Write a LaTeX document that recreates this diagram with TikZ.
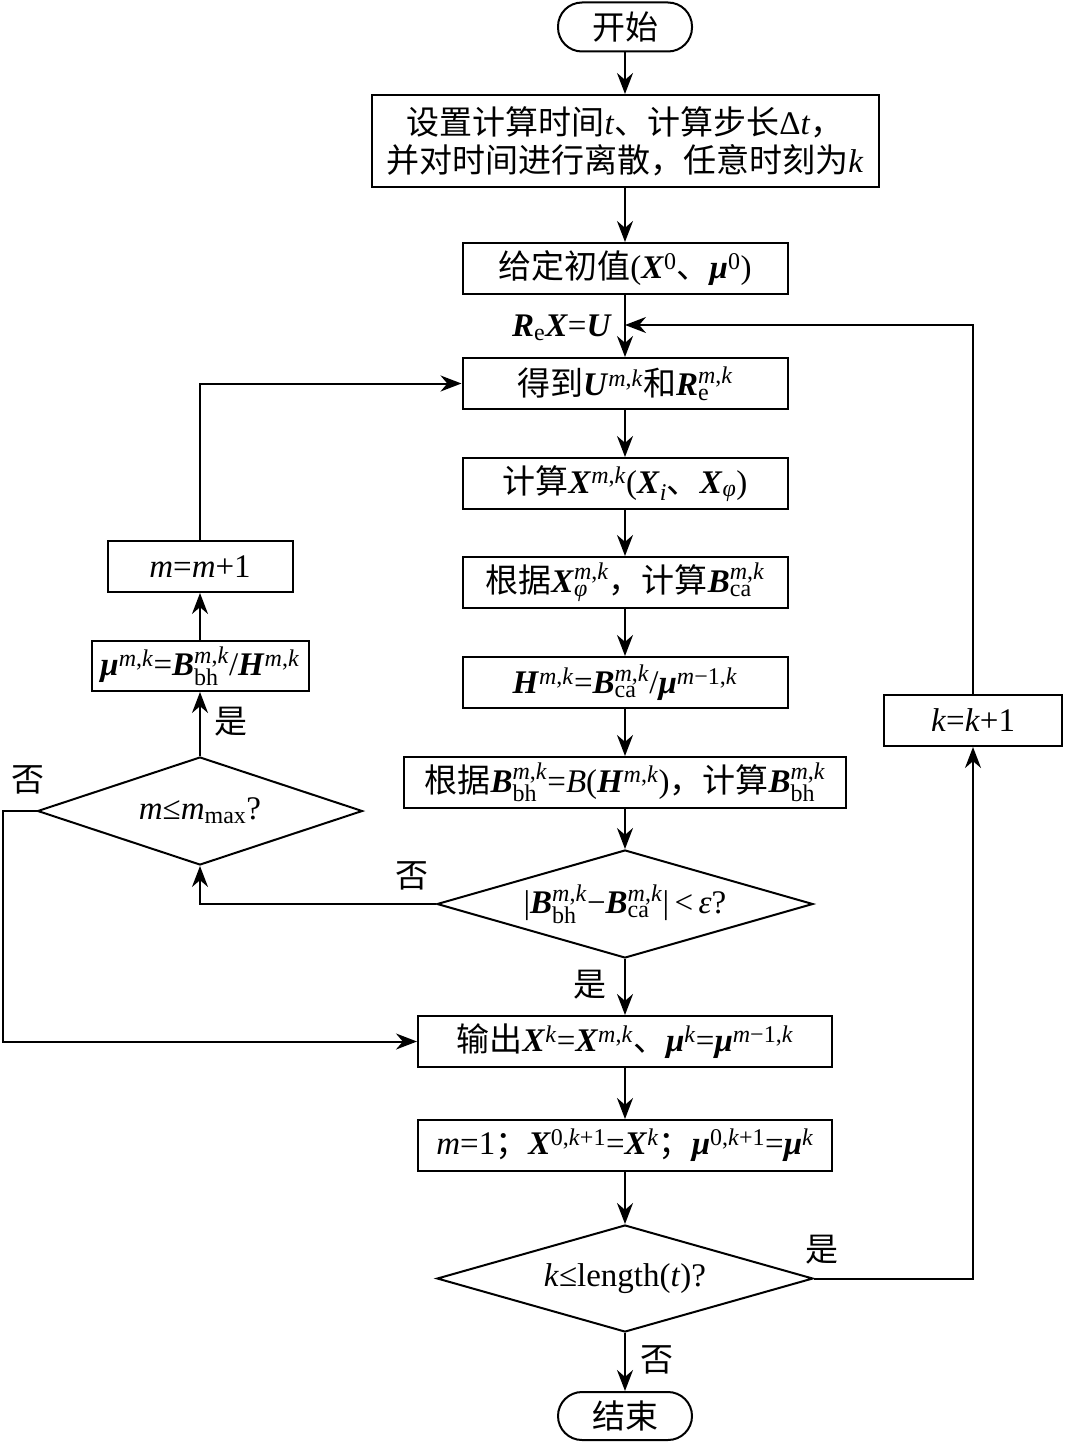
\documentclass[tikz,border=0pt]{standalone}
\usepackage{fontspec}
\setmainfont{Liberation Serif}
\newfontfamily\cjkf{Noto Sans CJK SC}
\usetikzlibrary{arrows.meta,shapes.geometric}
\newcommand\zh[1]{{\cjkf #1}}
\newcommand\bi[1]{\textbf{\textit{#1}}}
\newcommand\subfs{\fontsize{24}{24}\selectfont}
\newcommand\sps[1]{\ensuremath{^{\mbox{\subfs #1}}}}
\newcommand\sbs[1]{\ensuremath{_{\mbox{\subfs #1}}}}
\newcommand\ssb[2]{\ensuremath{^{\mbox{\subfs #1}}_{\mbox{\subfs #2}}}}
\newcommand\mk{\textit{m},\textit{k}}
\newcommand\mainfs{\fontsize{33}{38}\selectfont}
\tikzset{
  box/.style={draw, line width=2pt, inner sep=0pt, minimum height=51pt, font=\mainfs, align=center},
  term/.style={box, rounded corners=24pt, minimum width=134pt, minimum height=49pt},
  dia/.style={draw, diamond, line width=2pt, inner sep=0pt},
  lab/.style={font=\mainfs, inner sep=0pt},
  ln/.style={line width=2pt},
  arr/.style={line width=2pt, -{Stealth[length=21pt,width=16pt]}}
}
\begin{document}
\begin{tikzpicture}[x=1pt,y=-1pt]
\useasboundingbox (0,0) rectangle (1070,1445);
\fill[white] (0,0) rectangle (1070,1445);
% main column
\node[term] (st) at (625,27) {\zh{开始}};
\node[box, minimum width=507pt, minimum height=92pt] (b1) at (625,141)
  {\zh{设置计算时间}\textit{t}\zh{、计算步长}Δ\textit{t}\zh{，}\\\zh{并对时间进行离散，任意时刻为}\textit{k}};
\node[box, minimum width=325pt] (b2) at (625,268.5) {\zh{给定初值}(\bi{X}\sps{0}\zh{、}\bi{μ}\sps{0})};
\node[box, minimum width=325pt] (b3) at (625,383.5) {\zh{得到}\bi{U}\sps{\mk}\zh{和}\bi{R}\ssb{\mk}{e}};
\node[box, minimum width=325pt] (b4) at (625,483.5) {\zh{计算}\bi{X}\sps{\mk}(\bi{X}\sbs{\textit{i}}\zh{、}\bi{X}\sbs{\textit{φ}})};
\node[box, minimum width=325pt] (b5) at (625,582.5) {\zh{根据}\bi{X}\ssb{\mk}{\textit{φ}}\zh{，计算}\bi{B}\ssb{\mk}{ca}};
\node[box, minimum width=325pt] (b6) at (625,682.5) {\bi{H}\sps{\mk}=\bi{B}\ssb{\mk}{ca}/\bi{μ}\sps{\textit{m}−1,\textit{k}}};
\node[box, minimum width=442pt] (b7) at (625,782.5) {\zh{根据}\bi{B}\ssb{\mk}{bh}=\textit{B}(\bi{H}\sps{\mk})\zh{，计算}\bi{B}\ssb{\mk}{bh}};
\node[dia, minimum width=376pt, minimum height=108pt] (d1) at (625,904) {};
\node[lab] (d1t) at (625,904) {|\bi{B}\ssb{\mk}{bh}−\bi{B}\ssb{\mk}{ca}|\,<\,\textit{ε}?};
\node[box, minimum width=414pt] (b8) at (625,1041.5) {\zh{输出}\bi{X}\sps{\textit{k}}=\bi{X}\sps{\mk}\zh{、}\bi{μ}\sps{\textit{k}}=\bi{μ}\sps{\textit{m}−1,\textit{k}}};
\node[box, minimum width=414pt] (b9) at (625,1145.5) {\textit{m}=1\zh{；}\bi{X}\sps{0,\textit{k}+1}=\bi{X}\sps{\textit{k}}\zh{；}\bi{μ}\sps{0,\textit{k}+1}=\bi{μ}\sps{\textit{k}}};
\node[dia, minimum width=376pt, minimum height=107pt] (d2) at (625,1278.5) {};
\node[lab] (d2t) at (625,1278.5) {\textit{k}≤length(\textit{t})?};
\node[term, minimum height=48pt] (en) at (625,1416) {\zh{结束}};
% left column
\node[box, minimum width=185pt] (mm) at (200,566.5) {\textit{m}=\textit{m}+1};
\node[box, minimum width=217pt, minimum height=50pt] (mu) at (200,666) {\bi{μ}\sps{\mk}=\bi{B}\ssb{\mk}{bh}/\bi{H}\sps{\mk}};
\node[dia, minimum width=325pt, minimum height=108pt] (dm) at (200,811) {};
\node[lab] (dmt) at (200,811) {\textit{m}≤\textit{m}\sbs{max}?};
% right column
\node[box, minimum width=178pt] (kk) at (973,720.5) {\textit{k}=\textit{k}+1};
% junctions
\coordinate (j1) at (625,325);
\coordinate (j2) at (3,811);
% connectors
\draw[arr] (st) -- (b1);
\draw[arr] (b1) -- (b2);
\draw[arr] (b2) -- (b3);
\draw[arr] (b3) -- (b4);
\draw[arr] (b4) -- (b5);
\draw[arr] (b5) -- (b6);
\draw[arr] (b6) -- (b7);
\draw[arr] (b7) -- (d1.north);
\draw[arr] (d1.south) -- (b8);
\draw[arr] (b8) -- (b9);
\draw[arr] (b9) -- (d2.north);
\draw[arr] (d2.south) -- (en);
\draw[arr] (d1.west) -| (dm.south);
\draw[arr] (dm.north) -- (mu);
\draw[arr] (mu) -- (mm);
\draw[arr] (mm.north) |- (b3.west);
\draw[arr] (dm.west) -- (j2) |- (b8.west);
\draw[arr] (d2.east) -| (kk.south);
\draw[arr] (kk.north) |- (j1);
% labels
\node[lab, anchor=east] (lre) at (612,328) {\bi{R}\sbs{e}\bi{X}=\bi{U}};
\node[lab] (l1) at (412,876) {\zh{否}};
\node[lab] (l2) at (590,985) {\zh{是}};
\node[lab] (l3) at (231,722) {\zh{是}};
\node[lab] (l4) at (28,780) {\zh{否}};
\node[lab] (l5) at (822,1250) {\zh{是}};
\node[lab] (l6) at (657,1360) {\zh{否}};
\end{tikzpicture}
\end{document}
